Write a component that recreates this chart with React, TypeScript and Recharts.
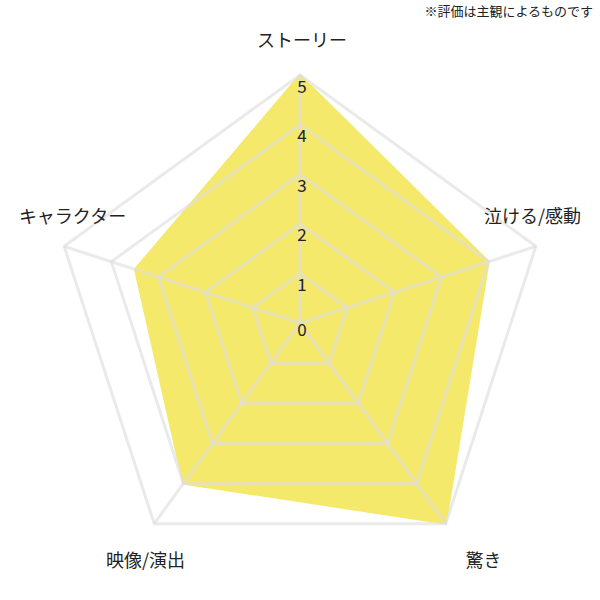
import React from 'react';
import { RadarChart, Radar, PolarGrid, PolarAngleAxis, PolarRadiusAxis } from 'recharts';

const categories = ['ストーリー', '泣ける/感動', '驚き', '映像/演出', 'キャラクター'];
const scores = [5, 4, 5, 4, 3.5];
const radiusTicks = [0, 1, 2, 3, 4, 5];
const note = '※評価は主観によるものです';

const data = categories.map((name, i) => ({ name, score: scores[i] }));

const FONT = '"Noto Sans CJK JP", "Noto Sans", sans-serif';

// nudges for the category labels, relative to where recharts puts them
const labelShift: Record<string, [number, number]> = {
  'ストーリー': [2, -28],
  '泣ける/感動': [-11, -29],
  '驚き': [33, 29],
  '映像/演出': [-4, 29],
  'キャラクター': [16, -29],
};

const AngleTick = (props: any) => {
  const { x, y, payload } = props;
  const [dx, dy] = labelShift[payload.value] || [0, 0];
  return (
    <text x={x + dx} y={y + dy} textAnchor="middle" dominantBaseline="central" fontSize={18} fill="#222" fontFamily={FONT}>
      {payload.value}
    </text>
  );
};

const RadiusTick = (props: any) => {
  const { x, y, payload } = props;
  // the zero label sits a little closer to the centre
  const dy = payload.value === 0 ? 5 : 10;
  return (
    <text x={x + 2} y={y + dy} textAnchor="middle" dominantBaseline="central" fontSize={17} fill="#222" fontFamily={FONT}>
      {payload.value}
    </text>
  );
};

const chartProps = {
  width: 600,
  height: 600,
  data,
  cx: 300,
  cy: 323,
  outerRadius: 248,
  margin: { top: 0, right: 0, bottom: 0, left: 0 },
};

export default function App() {
  return (
    <div style={{ position: 'absolute', left: 0, top: 0, width: 600, height: 600, background: '#fff', fontFamily: FONT }}>
      <div style={{ position: 'absolute', right: 7, top: 1, fontSize: 13, color: '#222', whiteSpace: 'nowrap' }}>{note}</div>
      {/* fill underneath */}
      <div style={{ position: 'absolute', left: 0, top: 0 }}>
        <RadarChart {...chartProps}>
          <PolarAngleAxis dataKey="name" tick={false} tickLine={false} axisLine={false} />
          <PolarRadiusAxis angle={90} domain={[0, 5]} tick={false} axisLine={false} tickLine={false} />
          <Radar dataKey="score" fill="#f5e96c" fillOpacity={1} stroke="#f5e96c" strokeWidth={2} isAnimationActive={false} />
        </RadarChart>
      </div>
      {/* grid and labels drawn over the fill */}
      <div style={{ position: 'absolute', left: 0, top: 0 }}>
        <RadarChart {...chartProps}>
          <PolarGrid gridType="polygon" stroke="#dedede" strokeOpacity={0.65} strokeWidth={3} />
          <PolarAngleAxis dataKey="name" tick={AngleTick} tickLine={false} axisLine={false} />
          <PolarRadiusAxis angle={90} domain={[0, 5]} ticks={radiusTicks as any} tickCount={6} tick={RadiusTick} axisLine={false} tickLine={false} />
          <Radar dataKey="score" fill="none" fillOpacity={0} stroke="none" isAnimationActive={false} />
        </RadarChart>
      </div>
    </div>
  );
}
